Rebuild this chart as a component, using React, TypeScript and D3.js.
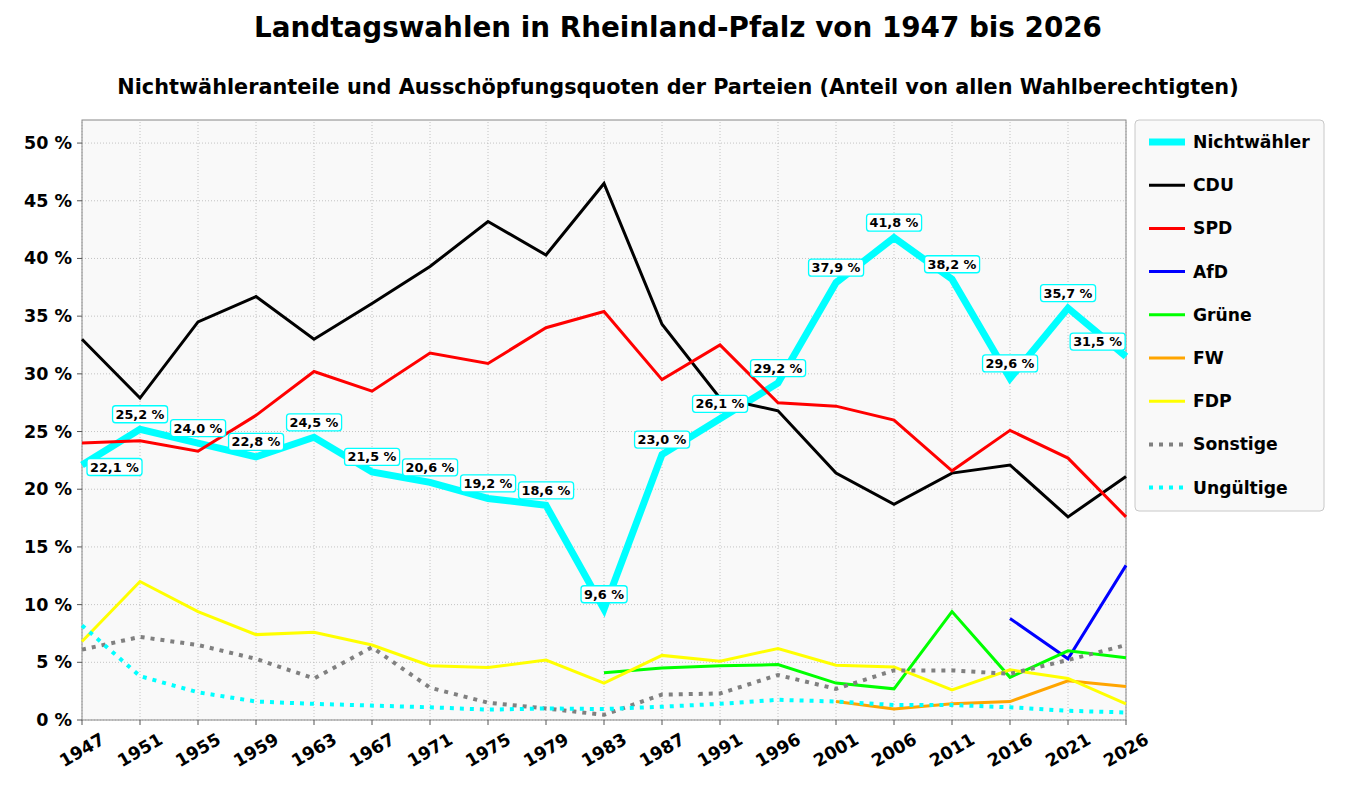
import React, { useRef, useEffect } from 'react';
import * as d3 from 'd3';

// Wahljahre
const years = ['1947', '1951', '1955', '1959', '1963', '1967', '1971', '1975', '1979', '1983',
  '1987', '1991', '1996', '2001', '2006', '2011', '2016', '2021', '2026'];

// Anteile von allen Wahlberechtigten (%), null = nicht angetreten
const nichtwaehler = [22.1, 25.2, 24.0, 22.8, 24.5, 21.5, 20.6, 19.2, 18.6, 9.6, 23.0, 26.1, 29.2, 37.9, 41.8, 38.2, 29.6, 35.7, 31.5];
const cdu = [33.0, 27.9, 34.5, 36.7, 33.0, 36.1, 39.3, 43.2, 40.3, 46.5, 34.3, 27.9, 26.8, 21.4, 18.7, 21.4, 22.1, 17.6, 21.1];
const spd = [24.0, 24.2, 23.3, 26.4, 30.2, 28.5, 31.8, 30.9, 34.0, 35.4, 29.5, 32.5, 27.5, 27.2, 26.0, 21.6, 25.1, 22.7, 17.6];
const afd = [null, null, null, null, null, null, null, null, null, null, null, null, null, null, null, null, 8.8, 5.3, 13.4];
const gruene = [null, null, null, null, null, null, null, null, null, 4.1, 4.5, 4.7, 4.8, 3.2, 2.7, 9.4, 3.7, 6.0, 5.4];
const fw = [null, null, null, null, null, null, null, null, null, null, null, null, null, 1.6, 0.95, 1.4, 1.6, 3.4, 2.9];
const fdp = [6.8, 12.0, 9.4, 7.4, 7.6, 6.5, 4.7, 4.55, 5.2, 3.2, 5.6, 5.1, 6.2, 4.75, 4.6, 2.6, 4.35, 3.6, 1.4];
const sonstige = [6.1, 7.2, 6.5, 5.3, 3.6, 6.3, 2.8, 1.5, 1.0, 0.45, 2.2, 2.3, 3.9, 2.7, 4.3, 4.3, 4.0, 5.2, 6.5];
const ungueltige = [8.2, 3.8, 2.4, 1.6, 1.4, 1.25, 1.1, 0.9, 1.0, 0.95, 1.15, 1.4, 1.75, 1.6, 1.3, 1.3, 1.1, 0.8, 0.65];

const yTicks = [0, 5, 10, 15, 20, 25, 30, 35, 40, 45, 50];

interface Series {
  name: string;
  values: (number | null)[];
  color: string;
  width: number;
  dotted?: boolean;
}

const series: Series[] = [
  { name: 'Nichtwähler', values: nichtwaehler, color: '#00ffff', width: 7 },
  { name: 'CDU', values: cdu, color: '#000000', width: 3 },
  { name: 'SPD', values: spd, color: '#ff0000', width: 3 },
  { name: 'AfD', values: afd, color: '#0000ff', width: 3 },
  { name: 'Grüne', values: gruene, color: '#00ff00', width: 3 },
  { name: 'FW', values: fw, color: '#ffa500', width: 3 },
  { name: 'FDP', values: fdp, color: '#ffff00', width: 3 },
  { name: 'Sonstige', values: sonstige, color: '#808080', width: 4, dotted: true },
  { name: 'Ungültige', values: ungueltige, color: '#00ffff', width: 4, dotted: true },
];

const FONT = '"DejaVu Sans", sans-serif';

export default function App() {
  const svgRef = useRef<SVGSVGElement>(null);

  useEffect(() => {
    const width = 1357;
    const height = 800;
    const margin = { top: 120, right: 231, bottom: 80, left: 82 };
    const svg = d3.select(svgRef.current);
    svg.selectAll('*').remove();
    svg.attr('width', width).attr('height', height);

    const x = d3.scalePoint<string>()
      .domain(years)
      .range([margin.left, width - margin.right]);
    const y = d3.scaleLinear()
      .domain([0, 52])
      .range([height - margin.bottom, margin.top]);

    const x0 = margin.left, x1 = width - margin.right;
    const y0 = height - margin.bottom, y1 = margin.top;

    svg.append('rect').attr('width', width).attr('height', height).attr('fill', '#ffffff');

    // Titel
    svg.append('text')
      .attr('x', 678).attr('y', 37)
      .attr('text-anchor', 'middle')
      .attr('font-family', FONT).attr('font-weight', 'bold').attr('font-size', 27.8)
      .text('Landtagswahlen in Rheinland-Pfalz von 1947 bis 2026');
    svg.append('text')
      .attr('x', 678).attr('y', 94)
      .attr('text-anchor', 'middle')
      .attr('font-family', FONT).attr('font-weight', 'bold').attr('font-size', 20.8)
      .text('Nichtwähleranteile und Ausschöpfungsquoten der Parteien (Anteil von allen Wahlberechtigten)');

    // Zeichenfläche
    svg.append('rect')
      .attr('x', x0).attr('y', y1).attr('width', x1 - x0).attr('height', y0 - y1)
      .attr('fill', '#f9f9f9');

    // Gitter
    const grid = svg.append('g')
      .attr('stroke', '#b5b5b5').attr('stroke-width', 0.8).attr('stroke-dasharray', '1,2');
    yTicks.forEach(t => {
      grid.append('line').attr('x1', x0).attr('x2', x1).attr('y1', y(t)).attr('y2', y(t));
    });
    years.forEach(yr => {
      grid.append('line').attr('x1', x(yr)!).attr('x2', x(yr)!).attr('y1', y0).attr('y2', y1);
    });

    // Rahmen
    svg.append('rect')
      .attr('x', x0).attr('y', y1).attr('width', x1 - x0).attr('height', y0 - y1)
      .attr('fill', 'none').attr('stroke', '#888').attr('stroke-width', 1);

    // Achsen
    const ya = svg.append('g');
    yTicks.forEach(t => {
      ya.append('line').attr('x1', x0 - 5).attr('x2', x0).attr('y1', y(t)).attr('y2', y(t))
        .attr('stroke', '#555').attr('stroke-width', 1);
      ya.append('text')
        .attr('x', x0 - 10).attr('y', y(t))
        .attr('text-anchor', 'end').attr('dominant-baseline', 'central')
        .attr('font-family', FONT).attr('font-weight', 'bold').attr('font-size', 17.5)
        .text(`${t} %`);
    });
    const xa = svg.append('g');
    years.forEach(yr => {
      xa.append('line').attr('x1', x(yr)!).attr('x2', x(yr)!).attr('y1', y0).attr('y2', y0 + 5)
        .attr('stroke', '#555').attr('stroke-width', 1);
      xa.append('text')
        .attr('transform', `translate(${x(yr)},${y0 + 30}) rotate(-30)`)
        .attr('text-anchor', 'middle').attr('dominant-baseline', 'central')
        .attr('font-family', FONT).attr('font-weight', 'bold').attr('font-size', 17.5)
        .text(yr);
    });

    // Linien
    const line = d3.line<number | null>()
      .defined(d => d !== null)
      .x((_, i) => x(years[i])!)
      .y(d => y(d as number));

    series.forEach(s => {
      svg.append('path')
        .datum(s.values)
        .attr('d', line)
        .attr('fill', 'none')
        .attr('stroke', s.color)
        .attr('stroke-width', s.width)
        .attr('stroke-linejoin', 'miter')
        .attr('stroke-dasharray', s.dotted ? '4,6' : null);
    });

    // Beschriftungen der Nichtwähler
    const labels = svg.append('g');
    nichtwaehler.forEach((v, i) => {
      const px = x(years[i])!;
      const py = y(v);
      const g = labels.append('g');
      let anchor = 'middle';
      let tx = px;
      let ty = py - 15;
      if (i === 0) { anchor = 'start'; tx = px + 8; ty = py + 2; }
      if (i === nichtwaehler.length - 1) { anchor = 'end'; tx = px - 4; }
      const txt = g.append('text')
        .attr('x', tx).attr('y', ty)
        .attr('text-anchor', anchor).attr('dominant-baseline', 'central')
        .attr('font-family', FONT).attr('font-weight', 'bold').attr('font-size', 12.8)
        .text(`${v.toFixed(1).replace('.', ',')} %`);
      const bb = (txt.node() as SVGTextElement).getBBox();
      g.insert('rect', 'text')
        .attr('x', bb.x - 3).attr('y', ty - 8.5)
        .attr('width', bb.width + 6).attr('height', 17)
        .attr('rx', 3)
        .attr('fill', '#ffffff').attr('stroke', '#00ffff').attr('stroke-width', 1.3);
    });

    // Legende
    const lg = svg.append('g');
    lg.append('rect')
      .attr('x', 1135).attr('y', 120).attr('width', 189).attr('height', 391).attr('rx', 4)
      .attr('fill', '#f9f9f9').attr('stroke', '#c8c8c8').attr('stroke-width', 1);
    series.forEach((s, i) => {
      const ly = 142 + i * 43.2;
      lg.append('line')
        .attr('x1', 1149).attr('x2', 1185).attr('y1', ly).attr('y2', ly)
        .attr('stroke', s.color).attr('stroke-width', s.width)
        .attr('stroke-dasharray', s.dotted ? '4,6' : null);
      lg.append('text')
        .attr('x', 1193).attr('y', ly)
        .attr('dominant-baseline', 'central')
        .attr('font-family', FONT).attr('font-weight', 'bold').attr('font-size', 17.2)
        .text(s.name);
    });
  }, []);

  return (
    <svg ref={svgRef} style={{ position: 'absolute', left: 0, top: 0 }}></svg>
  );
}
